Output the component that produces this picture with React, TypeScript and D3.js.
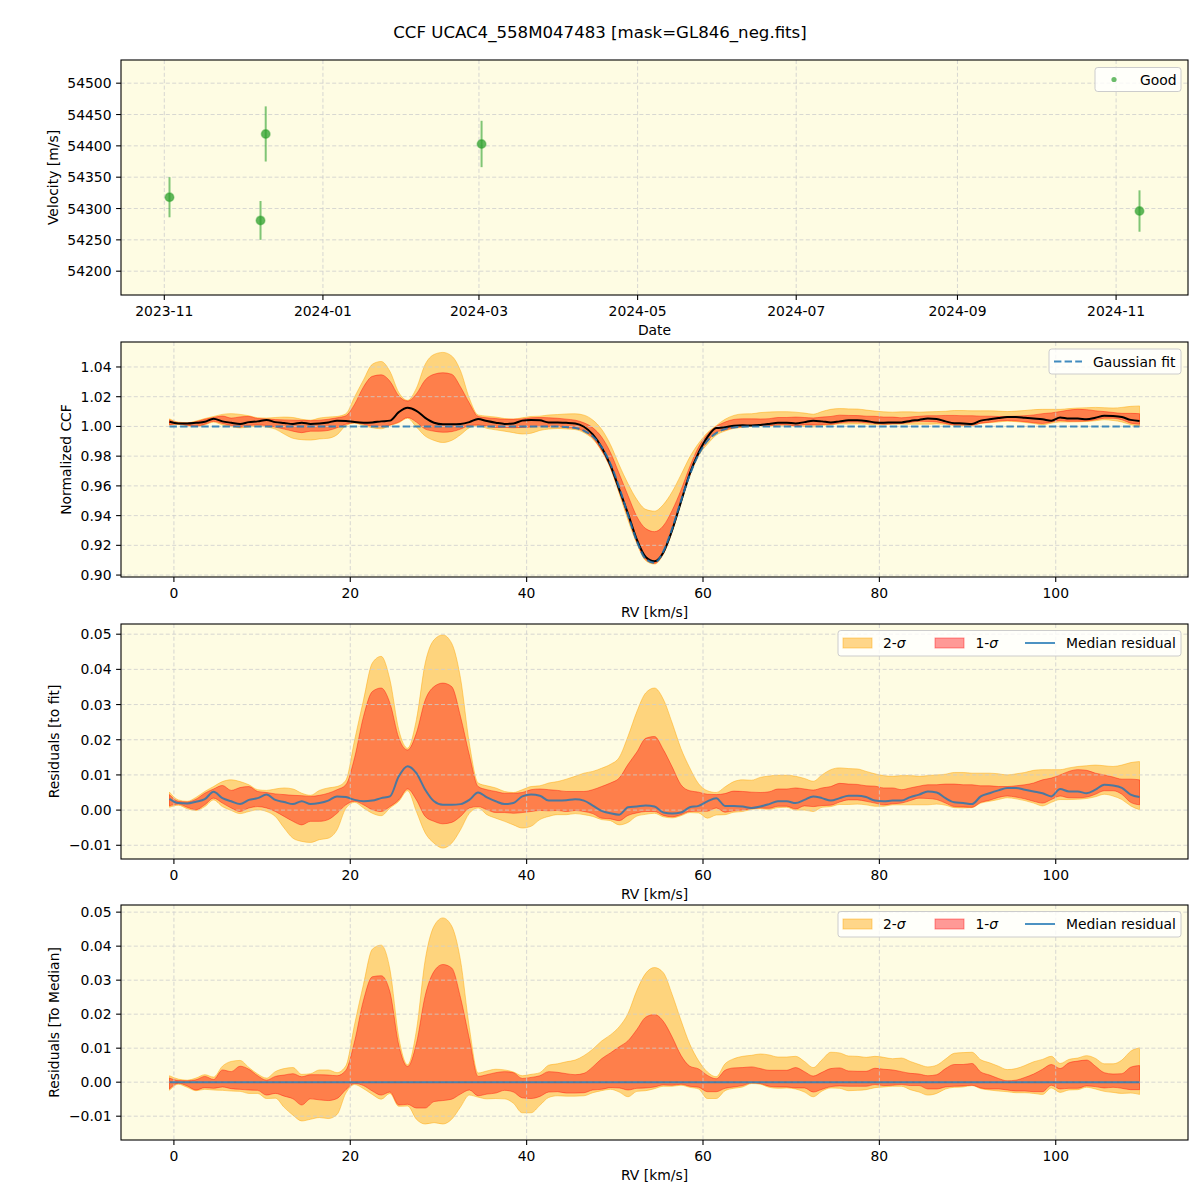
import React from "react";
import * as d3 from "d3";

// ---------------- data ----------------
const OBS_DATES = ["2023-11-03", "2023-12-08", "2023-12-10", "2024-03-02", "2024-11-10"];
const OBS_VEL = [54318, 54281, 54419, 54403, 54296];
const OBS_ERR = [32, 31, 44, 37, 33];

// RV grid (km/s): -0.5, 0.5, ..., 109.5
const RV_FIRST = -0.5;
const RV_STEP = 1;
const RV_COUNT = 111;
const RV = d3.range(RV_COUNT).map((i) => RV_FIRST + i * RV_STEP);

// Gaussian fit to the CCF
const FIT = [
  1, 1, 1, 1, 1, 1, 1, 1, 1, 1,
  1, 1, 1, 1, 1, 1, 1, 1, 1, 1,
  1, 1, 1, 1, 1, 1, 1, 1, 1, 1,
  1, 1, 1, 1, 1, 1, 1, 1, 1, 1,
  1, 1, 1, 1, 0.9999, 0.9996, 0.9989, 0.9971, 0.9933, 0.9862,
  0.9748, 0.959, 0.9404, 0.9228, 0.9109, 0.9083, 0.9159, 0.9312, 0.9499, 0.9674,
  0.9811, 0.9903, 0.9955, 0.9982, 0.9993, 0.9998, 1, 1, 1, 1,
  1, 1, 1, 1, 1, 1, 1, 1, 1, 1,
  1, 1, 1, 1, 1, 1, 1, 1, 1, 1,
  1, 1, 1, 1, 1, 1, 1, 1, 1, 1,
  1, 1, 1, 1, 1, 1, 1, 1, 1, 1,
  1,
];

// Median residual (to fit)
const MED = [
  0.0032, 0.002, 0.0019, 0.0024, 0.0031, 0.0052, 0.0034, 0.0025, 0.0017, 0.0029,
  0.0034, 0.0044, 0.0029, 0.0023, 0.0017, 0.0025, 0.0017, 0.002, 0.0027, 0.0039,
  0.0037, 0.0029, 0.0025, 0.0027, 0.0034, 0.0039, 0.0096, 0.0125, 0.0105, 0.0058,
  0.0025, 0.0015, 0.0015, 0.0017, 0.0029, 0.005, 0.0036, 0.0025, 0.0017, 0.002,
  0.0039, 0.0044, 0.0041, 0.0027, 0.0027, 0.0028, 0.0031, 0.0027, 0.0013, -0.0002,
  -0.0009, -0.0013, 0.0008, 0.001, 0.0013, 0.001, -0.0007, -0.001, -0.0007, 0.0008,
  0.0012, 0.0025, 0.0034, 0.0012, 0.0012, 0.001, 0.0006, 0.001, 0.0017, 0.0025,
  0.0025, 0.002, 0.0029, 0.0039, 0.0034, 0.0027, 0.0034, 0.0041, 0.0041, 0.0037,
  0.0027, 0.0025, 0.0027, 0.0027, 0.0037, 0.0044, 0.0053, 0.005, 0.0034, 0.0022,
  0.002, 0.0017, 0.0039, 0.0048, 0.0056, 0.0063, 0.0063, 0.0058, 0.0053, 0.0048,
  0.0039, 0.006, 0.0053, 0.0053, 0.0048, 0.0058, 0.0072, 0.007, 0.0063, 0.0044,
  0.0037,
];

// 2-sigma upper residual
const HI2 = [
  0.0051, 0.0029, 0.0025, 0.0036, 0.0053, 0.0067, 0.0081, 0.0086, 0.0081, 0.0072,
  0.0058, 0.0056, 0.006, 0.0063, 0.006, 0.0048, 0.0042, 0.0056, 0.0063, 0.0067,
  0.0085, 0.02, 0.0313, 0.0418, 0.0437, 0.037, 0.0228, 0.0176, 0.0257, 0.0418,
  0.0484, 0.0498, 0.0474, 0.0375, 0.019, 0.0077, 0.0069, 0.0063, 0.0053, 0.005,
  0.0058, 0.0067, 0.0069, 0.0077, 0.0081, 0.0088, 0.0096, 0.0105, 0.011, 0.0119,
  0.013, 0.015, 0.021, 0.028, 0.0333, 0.0347, 0.0315, 0.0248, 0.0175, 0.012,
  0.0075, 0.0055, 0.005, 0.0066, 0.0081, 0.0086, 0.0085, 0.0093, 0.0097, 0.0099,
  0.0099, 0.0096, 0.009, 0.0082, 0.01, 0.0115, 0.012, 0.0118, 0.0117, 0.011,
  0.0103, 0.0098, 0.0096, 0.0098, 0.0098, 0.0096, 0.0098, 0.01, 0.0102, 0.0107,
  0.0107, 0.0105, 0.0105, 0.0105, 0.0103, 0.01, 0.0103, 0.0107, 0.0113, 0.0115,
  0.0115, 0.0115, 0.012, 0.0124, 0.0126, 0.0128, 0.0126, 0.0124, 0.0128, 0.0135,
  0.0138,
];

// 1-sigma upper residual
const HI1 = [
  0.0044, 0.0025, 0.0023, 0.0031, 0.0048, 0.006, 0.007, 0.0056, 0.0064, 0.0067,
  0.0053, 0.005, 0.0046, 0.0044, 0.0042, 0.0041, 0.0039, 0.0042, 0.0048, 0.0058,
  0.0072, 0.015, 0.0266, 0.0337, 0.0347, 0.0304, 0.0205, 0.0171, 0.0219, 0.0313,
  0.0351, 0.0361, 0.0351, 0.0266, 0.0157, 0.0067, 0.0058, 0.0053, 0.0048, 0.0048,
  0.005, 0.0058, 0.006, 0.0058, 0.0056, 0.0053, 0.0053, 0.0053, 0.0058, 0.0067,
  0.0077, 0.0091, 0.013, 0.0165, 0.0204, 0.0209, 0.0172, 0.0123, 0.0072, 0.0055,
  0.0051, 0.0045, 0.0044, 0.0047, 0.0054, 0.0053, 0.0051, 0.005, 0.0052, 0.006,
  0.006, 0.0063, 0.006, 0.0057, 0.0063, 0.0067, 0.0076, 0.0074, 0.0073, 0.0069,
  0.0068, 0.0063, 0.0063, 0.0058, 0.0063, 0.0068, 0.0072, 0.0072, 0.0074, 0.0074,
  0.0072, 0.0072, 0.0069, 0.0069, 0.0067, 0.0067, 0.0069, 0.0072, 0.0077, 0.0086,
  0.0091, 0.01, 0.011, 0.0115, 0.0113, 0.0105, 0.01, 0.0094, 0.0088, 0.0088,
  0.0086,
];

// 1-sigma lower residual
const LO1 = [
  0.0012, 0.0017, 0.0008, 0.0001, 0.0015, 0.0034, 0.002, 0.0006, -0.0004, 0.0006,
  0.001, 0.0006, -0.0004, -0.0018, -0.0032, -0.0042, -0.0032, -0.0032, -0.0027, -0.0009,
  0.0015, 0.0025, 0.0015, 0.0001, -0.0004, 0.001, 0.0029, 0.006, 0.0029, -0.0018,
  -0.0032, -0.0039, -0.0035, -0.0018, 0.0006, 0.001, 0.0001, -0.0007, -0.0007, -0.0009,
  -0.0007, -0.0004, -0.0001, -0.0002, -0.0001, -0.0004, -0.0001, -0.0004, -0.001, -0.0023,
  -0.0025, -0.003, -0.0015, -0.0008, -0.0004, -0.0004, -0.0015, -0.0019, -0.0013, -0.0004,
  -0.0003, -0.0003, 0.0006, -0.0006, -0.0002, 0.0, 0.0004, 0.0006, 0.0005, 0.0011,
  0.0011, 0.0003, 0.0012, 0.001, 0.0013, 0.0014, 0.0023, 0.0029, 0.0029, 0.0025,
  0.002, 0.0015, 0.0018, 0.002, 0.0027, 0.0034, 0.0033, 0.003, 0.002, 0.001,
  0.0009, 0.0008, 0.0022, 0.0028, 0.0036, 0.004, 0.0037, 0.0032, 0.0025, 0.002,
  0.003, 0.004, 0.0035, 0.0035, 0.0037, 0.0045, 0.0055, 0.0055, 0.0045, 0.0022,
  0.0015,
];

// 2-sigma lower residual
const LO2 = [
  0.0008, 0.0014, 0.0004, -0.0001, 0.001, 0.0029, 0.001, -0.0001, -0.001, -0.0004,
  0.0001, -0.0004, -0.0018, -0.0051, -0.008, -0.0089, -0.0092, -0.0084, -0.008, -0.0056,
  0.0005, 0.0022, 0.0006, -0.0009, -0.0016, 0.0006, 0.0025, 0.0055, -0.0004, -0.0065,
  -0.0094, -0.0108, -0.0094, -0.0056, -0.0009, 0.0006, -0.0013, -0.0023, -0.0032, -0.0042,
  -0.0051, -0.0046, -0.0027, -0.0018, -0.0013, -0.0013, -0.001, -0.0013, -0.0018, -0.0027,
  -0.003, -0.0042, -0.0035, -0.0017, -0.0012, -0.0009, -0.0019, -0.0022, -0.0016, -0.0007,
  -0.0008, -0.0023, -0.0014, -0.0013, -0.0006, -0.0004, 0.0002, 0.0004, 0.0002, 0.0007,
  0.0008, 0.0, 0.0, -0.0004, 0.0008, 0.001, 0.0016, 0.0016, 0.0017, 0.0015,
  0.0011, 0.0011, 0.0015, 0.0015, 0.0015, 0.0015, 0.0015, 0.0017, 0.0014, 0.0007,
  0.0006, 0.0007, 0.002, 0.0025, 0.003, 0.0035, 0.0032, 0.0027, 0.002, 0.0012,
  0.0022, 0.003, 0.003, 0.0031, 0.0033, 0.0038, 0.0045, 0.004, 0.003, 0.0012,
  0.0001,
];

const DATE_TICKS = ["2023-11", "2024-01", "2024-03", "2024-05", "2024-07", "2024-09", "2024-11"];
const VEL_TICKS = [54200, 54250, 54300, 54350, 54400, 54450, 54500];
const RV_TICKS = [0, 20, 40, 60, 80, 100];
const CCF_TICKS = [0.9, 0.92, 0.94, 0.96, 0.98, 1.0, 1.02, 1.04];
const RES_TICKS = [-0.01, 0, 0.01, 0.02, 0.03, 0.04, 0.05];

// ---------------- layout / style ----------------
const L = 121;
const R = 1188;
const PH = 235;
const TOPS = [60, 342, 624, 905];
const FONT = "'DejaVu Sans', 'Liberation Sans', sans-serif";
const BG = "#fefce3";
const GRID = "#cdcdcd";
const C0 = "#1f77b4";
const GREEN = "#2ca02c";
const ORANGE = "#ffa500";
const RED = "#ff0000";
const FS = 13.9;

const fmtMinus = (s: string) => s.replace("-", "\u2212");

type AxesProps = {
  id: string;
  top: number;
  x: any;
  y: any;
  xTicks: any[];
  xFmt: (d: any) => string;
  yTicks: number[];
  yFmt: (d: number) => string;
  xlabel: string;
  ylabel: string;
  ylabelX: number;
  fills?: React.ReactNode;
  lines?: React.ReactNode;
  legend?: React.ReactNode;
};

function Axes(p: AxesProps) {
  const bottom = p.top + PH;
  const mid = p.top + PH / 2;
  return (
    <g>
      <rect x={L} y={p.top} width={R - L} height={PH} fill={BG} />
      <clipPath id={p.id}>
        <rect x={L} y={p.top} width={R - L} height={PH} />
      </clipPath>
      <g clipPath={`url(#${p.id})`}>
        {p.fills}
        {p.xTicks.map((t, i) => (
          <line key={"gx" + i} x1={p.x(t)} x2={p.x(t)} y1={p.top} y2={bottom} stroke={GRID} strokeWidth={0.8} strokeDasharray="4,2.4" />
        ))}
        {p.yTicks.map((t, i) => (
          <line key={"gy" + i} x1={L} x2={R} y1={p.y(t)} y2={p.y(t)} stroke={GRID} strokeWidth={0.8} strokeDasharray="4,2.4" />
        ))}
        {p.lines}
      </g>
      <rect x={L} y={p.top} width={R - L} height={PH} fill="none" stroke="#000" strokeWidth={1.1} />
      {p.xTicks.map((t, i) => {
        const px = p.x(t);
        return (
          <g key={"tx" + i}>
            <line x1={px} x2={px} y1={bottom} y2={bottom + 4.9} stroke="#000" strokeWidth={1.1} />
            <text x={px} y={bottom + 21} textAnchor="middle" fontSize={FS}>
              {p.xFmt(t)}
            </text>
          </g>
        );
      })}
      {p.yTicks.map((t, i) => {
        const py = p.y(t);
        return (
          <g key={"ty" + i}>
            <line x1={L - 4.9} x2={L} y1={py} y2={py} stroke="#000" strokeWidth={1.1} />
            <text x={L - 9.5} y={py} textAnchor="end" dominantBaseline="central" fontSize={FS}>
              {p.yFmt(t)}
            </text>
          </g>
        );
      })}
      <text x={(L + R) / 2} y={bottom + 40} textAnchor="middle" fontSize={FS}>
        {p.xlabel}
      </text>
      <text transform={`translate(${p.ylabelX},${mid}) rotate(-90)`} textAnchor="middle" dominantBaseline="central" fontSize={FS}>
        {p.ylabel}
      </text>
      {p.legend}
    </g>
  );
}

function LegendFrame({ x, y, w, h }: { x: number; y: number; w: number; h: number }) {
  return <rect x={x} y={y} width={w} height={h} rx={2.8} fill="#ffffff" fillOpacity={0.8} stroke="#cccccc" strokeWidth={1} />;
}

function SigmaLegend({ top }: { top: number }) {
  const y0 = top + 6.5;
  const cy = y0 + 12.5;
  return (
    <g>
      <LegendFrame x={838} y={y0} w={343} h={25.5} />
      <rect x={843} y={cy - 5} width={29} height={10} fill={ORANGE} fillOpacity={0.45} stroke={ORANGE} strokeOpacity={0.45} />
      <text x={883} y={cy} dominantBaseline="central" fontSize={FS}>
        2-<tspan fontStyle="italic">σ</tspan>
      </text>
      <rect x={935} y={cy - 5} width={29} height={10} fill={RED} fillOpacity={0.4} stroke={RED} strokeOpacity={0.4} />
      <text x={975.5} y={cy} dominantBaseline="central" fontSize={FS}>
        1-<tspan fontStyle="italic">σ</tspan>
      </text>
      <line x1={1025} x2={1055} y1={cy} y2={cy} stroke={C0} strokeOpacity={0.8} strokeWidth={2} />
      <text x={1066} y={cy} dominantBaseline="central" fontSize={FS}>
        Median residual
      </text>
    </g>
  );
}

export default function App() {
  const xRV = d3.scaleLinear().domain([-6, 115]).range([L, R]);

  // ---- panel 1 ----
  const dates = OBS_DATES.map((s) => new Date(s + "T00:00:00Z"));
  const [d0, d1] = d3.extent(dates) as [Date, Date];
  const pad = (+d1 - +d0) * 0.05;
  const xDate = d3.scaleUtc().domain([new Date(+d0 - pad), new Date(+d1 + pad)]).range([L, R]);
  const yVel = d3.scaleLinear().domain([54162, 54537]).range([TOPS[0] + PH, TOPS[0]]);
  const dateTicks = DATE_TICKS.map((s) => new Date(s + "-01T00:00:00Z"));
  const fmtDate = d3.utcFormat("%Y-%m");

  // ---- panel 2 ----
  const yCCF = d3.scaleLinear().domain([0.8987, 1.0568]).range([TOPS[1] + PH, TOPS[1]]);
  // ---- panel 3 ----
  const yRes = d3.scaleLinear().domain([-0.0139, 0.0529]).range([TOPS[2] + PH, TOPS[2]]);
  // ---- panel 4 ----
  const yMed = d3.scaleLinear().domain([-0.017, 0.0521]).range([TOPS[3] + PH, TOPS[3]]);

  const idx = d3.range(RV.length);
  const curve = d3.curveMonotoneX;

  const band = (y: any, lo: (i: number) => number, hi: (i: number) => number) =>
    d3
      .area<number>()
      .x((i) => xRV(RV[i]))
      .y0((i) => y(lo(i)))
      .y1((i) => y(hi(i)))
      .curve(curve)(idx) as string;

  const line = (y: any, v: (i: number) => number) =>
    d3
      .line<number>()
      .x((i) => xRV(RV[i]))
      .y((i) => y(v(i)))
      .curve(curve)(idx) as string;

  const bandPaths = (y: any, base: (i: number) => number) => (
    <g>
      <path d={band(y, (i) => base(i) + LO2[i], (i) => base(i) + HI2[i])} fill={ORANGE} fillOpacity={0.45} stroke={ORANGE} strokeOpacity={0.45} strokeWidth={1} />
      <path d={band(y, (i) => base(i) + LO1[i], (i) => base(i) + HI1[i])} fill={RED} fillOpacity={0.4} stroke={RED} strokeOpacity={0.4} strokeWidth={1} />
    </g>
  );

  return (
    <svg
      width={1200}
      height={1200}
      viewBox="0 0 1200 1200"
      style={{ position: "absolute", left: 0, top: 0, display: "block" }}
      fontFamily={FONT}
      fill="#000"
    >
      <rect x={0} y={0} width={1200} height={1200} fill="#ffffff" />
      <text x={600} y={38} textAnchor="middle" fontSize={16.6}>
        CCF UCAC4_558M047483 [mask=GL846_neg.fits]
      </text>

      {/* Panel 1: velocities */}
      <Axes
        id="c1"
        top={TOPS[0]}
        x={xDate}
        y={yVel}
        xTicks={dateTicks}
        xFmt={(d) => fmtDate(d)}
        yTicks={VEL_TICKS}
        yFmt={(d) => String(d)}
        xlabel="Date"
        ylabel="Velocity [m/s]"
        ylabelX={53}
        lines={
          <g>
            {dates.map((d, i) => (
              <line
                key={"e" + i}
                x1={xDate(d)}
                x2={xDate(d)}
                y1={yVel(OBS_VEL[i] - OBS_ERR[i])}
                y2={yVel(OBS_VEL[i] + OBS_ERR[i])}
                stroke={GREEN}
                strokeOpacity={0.6}
                strokeWidth={2}
              />
            ))}
            {dates.map((d, i) => (
              <circle key={"p" + i} cx={xDate(d)} cy={yVel(OBS_VEL[i])} r={4.3} fill={GREEN} fillOpacity={0.75} stroke={GREEN} strokeOpacity={0.45} strokeWidth={1.5} />
            ))}
          </g>
        }
        legend={
          <g>
            <LegendFrame x={1095} y={TOPS[0] + 7.5} w={86} h={24} />
            <circle cx={1114} cy={TOPS[0] + 19.5} r={2.6} fill={GREEN} fillOpacity={0.7} />
            <text x={1140} y={TOPS[0] + 19.5} dominantBaseline="central" fontSize={FS}>
              Good
            </text>
          </g>
        }
      />

      {/* Panel 2: normalized CCF */}
      <Axes
        id="c2"
        top={TOPS[1]}
        x={xRV}
        y={yCCF}
        xTicks={RV_TICKS}
        xFmt={(d) => String(d)}
        yTicks={CCF_TICKS}
        yFmt={(d) => d.toFixed(2)}
        xlabel="RV [km/s]"
        ylabel="Normalized CCF"
        ylabelX={66}
        fills={bandPaths(yCCF, (i) => FIT[i])}
        lines={
          <g>
            <path d={line(yCCF, (i) => FIT[i] + MED[i])} fill="none" stroke="#000" strokeWidth={2} />
            <path d={line(yCCF, (i) => FIT[i])} fill="none" stroke={C0} strokeOpacity={0.85} strokeWidth={2} strokeDasharray="7.4,3.2" />
          </g>
        }
        legend={
          <g>
            <LegendFrame x={1049} y={TOPS[1] + 7} w={132} h={25} />
            <line x1={1054} x2={1082} y1={TOPS[1] + 19.5} y2={TOPS[1] + 19.5} stroke={C0} strokeOpacity={0.85} strokeWidth={2} strokeDasharray="7.4,3.2" />
            <text x={1093} y={TOPS[1] + 19.5} dominantBaseline="central" fontSize={FS}>
              Gaussian fit
            </text>
          </g>
        }
      />

      {/* Panel 3: residuals to fit */}
      <Axes
        id="c3"
        top={TOPS[2]}
        x={xRV}
        y={yRes}
        xTicks={RV_TICKS}
        xFmt={(d) => String(d)}
        yTicks={RES_TICKS}
        yFmt={(d) => fmtMinus(d.toFixed(2))}
        xlabel="RV [km/s]"
        ylabel="Residuals [to fit]"
        ylabelX={54}
        fills={bandPaths(yRes, () => 0)}
        lines={<path d={line(yRes, (i) => MED[i])} fill="none" stroke={C0} strokeOpacity={0.8} strokeWidth={2} />}
        legend={<SigmaLegend top={TOPS[2]} />}
      />

      {/* Panel 4: residuals to median */}
      <Axes
        id="c4"
        top={TOPS[3]}
        x={xRV}
        y={yMed}
        xTicks={RV_TICKS}
        xFmt={(d) => String(d)}
        yTicks={RES_TICKS}
        yFmt={(d) => fmtMinus(d.toFixed(2))}
        xlabel="RV [km/s]"
        ylabel="Residuals [To Median]"
        ylabelX={54}
        fills={bandPaths(yMed, (i) => -MED[i])}
        lines={<path d={line(yMed, (i) => MED[i] - MED[i])} fill="none" stroke={C0} strokeOpacity={0.8} strokeWidth={2} />}
        legend={<SigmaLegend top={TOPS[3]} />}
      />
    </svg>
  );
}
